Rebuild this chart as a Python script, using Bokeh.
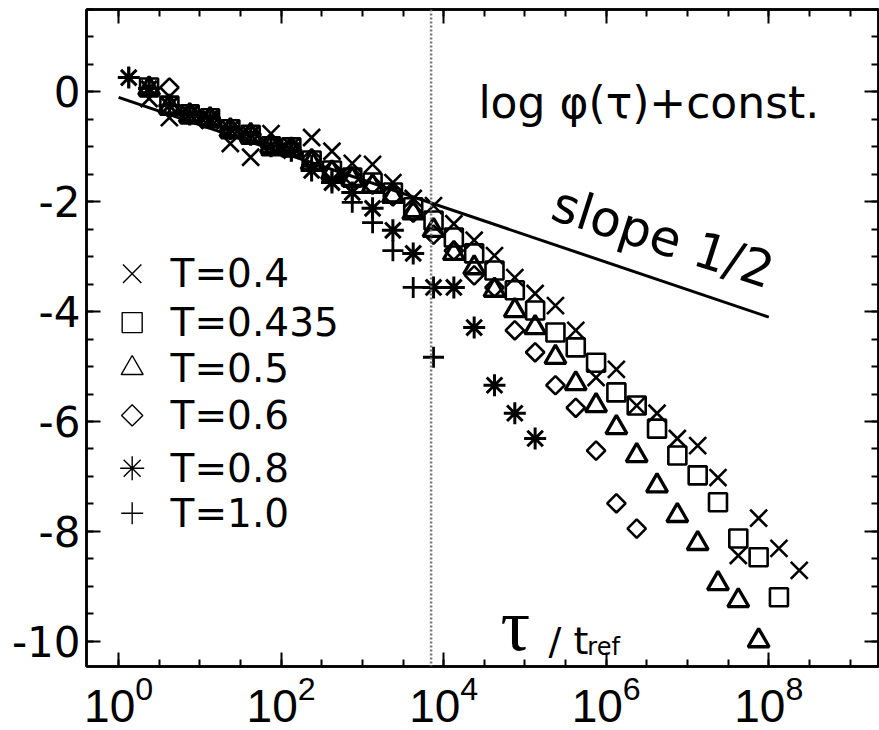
from bokeh.plotting import figure
from bokeh.models import Range1d, FixedTicker, LinearAxis, LogAxis, Span, CustomJSTickFormatter
from bokeh.core.properties import value
from bokeh.embed import file_html
from bokeh.resources import INLINE

# ---------------- data (log10 tau, log phi + const) ----------------
logtau_T040 = [0.375, 0.625, 0.875, 1.125, 1.375, 1.625, 1.875, 2.125, 2.375, 2.625,
               2.875, 3.125, 3.375, 3.625, 3.875, 4.125, 4.375, 4.625, 4.875, 5.125,
               5.375, 5.625, 5.875, 6.125, 6.375, 6.625, 6.875, 7.125, 7.375, 7.625,
               7.875, 8.125, 8.375]
phi_T040 = [-0.12, -0.47, -0.41, -0.52, -0.94, -1.19, -0.76, -0.99, -0.83, -1.08,
            -1.30, -1.32, -1.65, -1.94, -2.07, -2.40, -2.70, -2.98, -3.38, -3.67,
            -3.89, -4.34, -5.20, -5.05, -5.71, -5.85, -6.31, -6.44, -7.02, -8.44,
            -7.76, -8.31, -8.71]

logtau_T0435 = [0.375, 0.625, 0.875, 1.125, 1.375, 1.625, 1.875, 2.125, 2.375, 2.625,
                2.875, 3.125, 3.375, 3.625, 3.875, 4.125, 4.375, 4.625, 4.875, 5.125,
                5.375, 5.625, 5.875, 6.125, 6.375, 6.625, 6.875, 7.125, 7.375, 7.625,
                7.875, 8.125]
phi_T0435 = [0.08, -0.25, -0.41, -0.48, -0.68, -0.78, -0.99, -1.01, -1.25, -1.43,
             -1.56, -1.65, -1.83, -2.10, -2.34, -2.65, -2.94, -3.25, -3.61, -3.98,
             -4.38, -4.65, -4.93, -5.47, -5.71, -6.13, -6.62, -6.98, -7.47, -8.13,
             -8.47, -9.20]

logtau_T050 = [0.375, 0.625, 0.875, 1.125, 1.375, 1.625, 1.875, 2.125, 2.375, 2.625,
               2.875, 3.125, 3.375, 3.625, 3.875, 4.125, 4.375, 4.625, 4.875, 5.125,
               5.375, 5.625, 5.875, 6.125, 6.375, 6.625, 6.875, 7.125, 7.375, 7.625,
               7.875]
phi_T050 = [0.06, -0.27, -0.43, -0.50, -0.70, -0.79, -0.99, -1.05, -1.29, -1.47,
            -1.59, -1.72, -1.90, -2.20, -2.52, -2.94, -3.20, -3.61, -3.98, -4.29,
            -4.83, -5.31, -5.71, -6.11, -6.62, -7.17, -7.71, -8.22, -8.95, -9.26,
            -9.99]

logtau_T060 = [0.625, 0.875, 1.125, 1.375, 1.625, 1.875, 2.125, 2.375, 2.625, 2.875,
               3.125, 3.375, 3.625, 3.875, 4.125, 4.375, 4.625, 4.875, 5.125, 5.375,
               5.625, 5.875, 6.125, 6.375]
phi_T060 = [0.08, -0.39, -0.47, -0.67, -0.76, -0.98, -1.01, -1.21, -1.43, -1.54,
            -1.69, -1.90, -2.20, -2.60, -2.89, -3.34, -3.56, -4.34, -4.74, -5.34,
            -5.75, -6.53, -7.49, -7.95]

logtau_T080 = [0.125, 0.375, 0.625, 0.875, 1.125, 1.375, 1.625, 1.875, 2.125, 2.375,
               2.625, 2.875, 3.125, 3.375, 3.625, 3.875, 4.125, 4.375, 4.625, 4.875,
               5.125]
phi_T080 = [0.26, 0.06, -0.25, -0.41, -0.48, -0.68, -0.78, -0.99, -1.07, -1.43,
            -1.65, -1.83, -2.12, -2.52, -2.94, -3.56, -3.56, -4.29, -5.34, -5.85,
            -6.31]

logtau_T100 = [0.125, 0.375, 0.625, 0.875, 1.125, 1.375, 1.625, 1.875, 2.125, 2.375,
               2.625, 2.875, 3.125, 3.375, 3.625, 3.875]
phi_T100 = [0.26, 0.06, -0.25, -0.41, -0.48, -0.68, -0.78, -0.99, -1.07, -1.34,
            -1.61, -2.01, -2.38, -2.89, -3.56, -4.83]

labels = ["T=0.4", "T=0.435", "T=0.5", "T=0.6", "T=0.8", "T=1.0"]

# reference line of slope 1/2
slope_tau = [1.0, 1.0e8]
slope_phi = [-0.1, -4.1]

# reference time (dotted vertical line), log10
log_tref_line = 3.845

x_major = [1, 1e2, 1e4, 1e6, 1e8]
y_major = [-10, -8, -6, -4, -2, 0]

# ---------------- figure ----------------
p = figure(width=879, height=730, x_axis_type="log",
           x_range=Range1d(10 ** -0.395, 10 ** 9.35), y_range=Range1d(-10.46, 1.5),
           output_backend="svg", toolbar_location=None,
           min_border_left=86, min_border_right=1, min_border_top=9, min_border_bottom=64)
p.background_fill_color = "white"
p.border_fill_color = "white"
p.outline_line_color = "black"
p.outline_line_width = 2.5
p.xgrid.visible = False
p.ygrid.visible = False

x_minor = [10 ** (i / 2) for i in range(-1, 20)]
y_minor = [-10.5 + 0.5 * i for i in range(25)]


def style_axis(ax, label_font, label_size, standoff):
    ax.axis_line_width = 2.5
    ax.axis_line_color = "black"
    ax.major_tick_in = 14
    ax.major_tick_out = 0
    ax.minor_tick_in = 7
    ax.minor_tick_out = 0
    ax.major_tick_line_width = 2
    ax.minor_tick_line_width = 2
    ax.major_tick_line_color = "black"
    ax.minor_tick_line_color = "black"
    ax.major_label_text_font = label_font
    ax.major_label_text_font_size = label_size
    ax.major_label_text_color = "black"
    ax.major_label_standoff = standoff


xa = p.xaxis[0]
xa.ticker = FixedTicker(ticks=x_major, minor_ticks=x_minor)
style_axis(xa, "Liberation Sans", "46px", 8)

ya = p.yaxis[0]
ya.ticker = FixedTicker(ticks=y_major, minor_ticks=y_minor)
ya.formatter = CustomJSTickFormatter(code="return tick.toFixed(0);")
style_axis(ya, "DejaVu Sans", "42px", 6)

top = LogAxis(ticker=FixedTicker(ticks=x_major, minor_ticks=x_minor),
              formatter=CustomJSTickFormatter(code="return '';"))
style_axis(top, "DejaVu Sans", "2px", 0)
p.add_layout(top, "above")

right = LinearAxis(ticker=FixedTicker(ticks=y_major, minor_ticks=y_minor),
                   formatter=CustomJSTickFormatter(code="return '';"))
style_axis(right, "DejaVu Sans", "2px", 0)
p.add_layout(right, "right")

# dotted vertical line at t_ref
p.add_layout(Span(location=10 ** log_tref_line, dimension="height",
                  line_color="#777777", line_width=2.5, line_dash="2 2"))

# slope line
p.line(slope_tau, slope_phi, line_color="black", line_width=3)

# ---------------- data markers ----------------
series = [
    (logtau_T040, phi_T040, "x", 24, 0.0, 2.6),
    (logtau_T0435, phi_T0435, "square", 18, 0.0, 2.6),
    (logtau_T050, phi_T050, "triangle", 21, 0.0, 3.3),
    (logtau_T060, phi_T060, "square", 13, 0.785398, 2.6),
    (logtau_T080, phi_T080, "asterisk", 22, 0.0, 3.0),
    (logtau_T100, phi_T100, "cross", 21, 0.0, 2.8),
]
for lt, ph, mk, sz, ang, lw in series:
    p.scatter([10 ** v for v in lt], ph, marker=mk, size=sz, angle=ang,
              fill_color=None, line_color="black", line_width=lw)

# ---------------- legend (drawn manually, thin symbols) ----------------
leg_logx = 0.167
leg_text_logx = 0.64
leg_y = [-3.31, -4.20, -5.03, -5.89, -6.85, -7.67]
leg_marks = [("x", 26, 0.0), ("square", 20, 0.0), ("triangle", 22, 0.0),
             ("square", 15, 0.785398), ("asterisk", 24, 0.0), ("cross", 22, 0.0)]
for (mk, sz, ang), yy in zip(leg_marks, leg_y):
    p.scatter([10 ** leg_logx], [yy], marker=mk, size=sz, angle=ang,
              fill_color=None, line_color="black", line_width=1.4)
p.text(x=[10 ** leg_text_logx] * len(labels), y=leg_y, text=labels,
       text_font=value("DejaVu Sans"), text_font_size="39px",
       text_baseline="middle", text_align="left", text_color="black")

# ---------------- annotations ----------------
p.text(x=[10 ** 4.427], y=[-0.19], text=["log φ(τ)+const."],
       text_font=value("DejaVu Sans"), text_font_size="44px",
       text_baseline="alphabetic", text_align="left", text_color="black")

p.text(x=[10 ** 6.70], y=[-2.65], text=["slope 1/2"], angle=-0.31,
       text_font=value("DejaVu Sans"), text_font_size="50px",
       text_baseline="middle", text_align="center", text_color="black")

p.text(x=[10 ** 4.70], y=[-9.71], text=["τ"],
       text_font=value("Liberation Serif"), text_font_size="74px",
       text_baseline="alphabetic", text_align="left", text_color="black")
p.text(x=[10 ** 5.29], y=[-10.0], text=["/ t"],
       text_font=value("DejaVu Sans"), text_font_size="38px",
       text_baseline="alphabetic", text_align="left", text_color="black")
p.text(x=[10 ** 5.767], y=[-10.1], text=["ref"],
       text_font=value("DejaVu Sans"), text_font_size="24px",
       text_baseline="alphabetic", text_align="left", text_color="black")

open("out.html", "w").write(file_html(p, INLINE))
